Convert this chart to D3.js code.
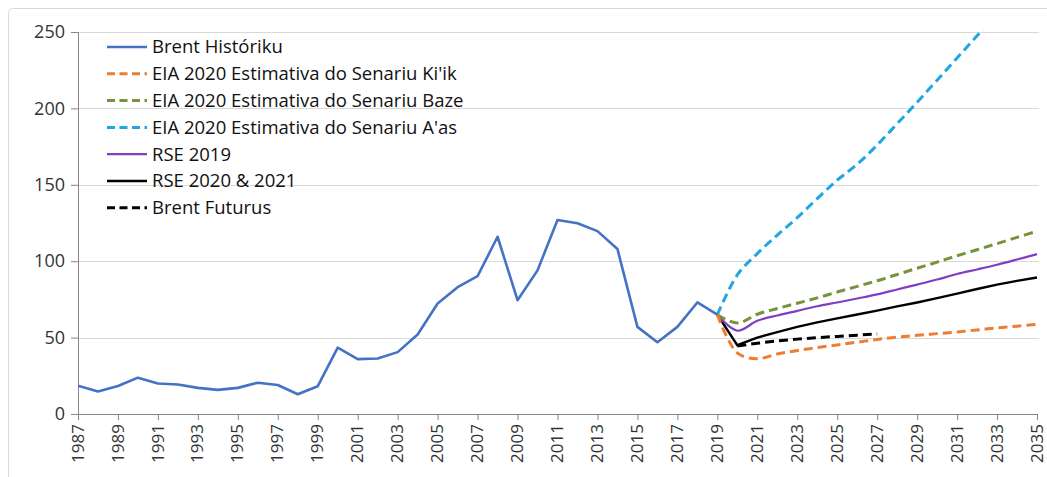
<!DOCTYPE html>
<html>
<head>
<meta charset="utf-8">
<script src="https://cdn.jsdelivr.net/npm/d3@7"></script>
<style>
  body { margin: 0; background: #fff; }
  text { font-family: "Open Sans", sans-serif; }
</style>
</head>
<body>
<div id="chart-container"></div>
<script>
// Data
const histYears = d3.range(1987, 2020);
const brentHist = [18.5, 14.8, 18.3, 23.8, 20.0, 19.3, 17.1, 15.8, 17.1, 20.5, 19.0, 12.9, 18.2,
    43.4, 35.9, 36.3, 40.5, 52.0, 72.3, 83.0, 90.2, 116.0, 74.5, 94.0, 127.0, 124.8, 119.7,
    108.0, 57.0, 47.0, 57.0, 73.0, 65.0];

const fcYears = d3.range(2019, 2036);
const eiaLow = [65.0, 40.0, 36.2, 39.3, 41.5, 43.5, 45.2, 47.0, 48.8, 50.3, 51.5, 52.6, 53.7, 55.0, 56.4, 57.5, 58.6];
const eiaBase = [65.0, 59.5, 65.3, 69.0, 72.5, 76.0, 79.8, 83.5, 87.2, 91.3, 95.4, 99.4, 103.6, 107.5, 111.5, 115.6, 119.6];
const eiaHigh = [65.0, 91.0, 105.0, 117.0, 128.5, 141.0, 153.0, 163.5, 176.0, 190.0, 204.0, 218.5, 233.0, 247.5, 262.0, 277.0, 292.0];
const rse2019 = [65.0, 54.5, 61.0, 64.5, 67.5, 70.5, 73.0, 75.6, 78.3, 81.5, 84.7, 88.0, 91.6, 94.6, 97.7, 101.1, 104.6];
const rse2020 = [65.0, 45.0, 50.0, 53.6, 57.0, 60.0, 62.6, 65.1, 67.7, 70.4, 73.0, 75.8, 78.8, 81.8, 84.7, 87.1, 89.3];

const futYears = d3.range(2020, 2028);
const brentFut = [44.5, 46.3, 47.8, 49.0, 50.0, 50.8, 51.6, 52.4];

const yTicks = [0, 50, 100, 150, 200, 250];
const xTicks = d3.range(1987, 2036, 2);

const series = [
    { name: "Brent Históriku", years: histYears, values: brentHist, color: "#4472c4", width: 2.6, dash: null, curve: d3.curveLinear },
    { name: "EIA 2020 Estimativa do Senariu Ki'ik", years: fcYears, values: eiaLow, color: "#ed7d31", width: 3, dash: "9,5", curve: d3.curveCatmullRom },
    { name: "EIA 2020 Estimativa do Senariu Baze", years: fcYears, values: eiaBase, color: "#77933c", width: 3, dash: "9,5", curve: d3.curveCatmullRom },
    { name: "EIA 2020 Estimativa do Senariu A'as", years: fcYears, values: eiaHigh, color: "#1ea7e1", width: 3, dash: "9,5", curve: d3.curveCatmullRom },
    { name: "RSE 2019", years: fcYears, values: rse2019, color: "#7f3fc2", width: 2.2, dash: null, curve: d3.curveCatmullRom },
    { name: "RSE 2020 & 2021", years: fcYears, values: rse2020, color: "#000000", width: 2.4, dash: null, curve: d3.curveLinear },
    { name: "Brent Futurus", years: futYears, values: brentFut, color: "#000000", width: 3, dash: "9,5", curve: d3.curveLinear }
];

const W = 1047, H = 477;
const plotLeft = 78, plotRight = 1037, plotTop = 32, plotBottom = 414;

const svg = d3.select('#chart-container')
    .append('svg')
    .attr('width', W)
    .attr('height', H);

// Outer chart frame
svg.append('rect')
    .attr('x', 8.5)
    .attr('y', 8.5)
    .attr('width', 1100)
    .attr('height', 520)
    .attr('rx', 4)
    .attr('fill', 'none')
    .attr('stroke', '#d9d9d9');

const x = d3.scaleLinear().domain([1987, 2035]).range([plotLeft, plotRight]);
const y = d3.scaleLinear().domain([0, 250]).range([plotBottom, plotTop]);

// Gridlines
svg.append('g')
    .selectAll('line')
    .data(yTicks.filter(d => d > 0))
    .enter()
    .append('line')
    .attr('x1', plotLeft)
    .attr('x2', plotRight + 2)
    .attr('y1', d => Math.round(y(d)) + 0.5)
    .attr('y2', d => Math.round(y(d)) + 0.5)
    .attr('stroke', '#d9d9d9')
    .attr('stroke-width', 1);

// Y axis
const yAxis = svg.append('g')
    .attr('transform', `translate(${plotLeft},0)`)
    .call(d3.axisLeft(y).tickValues(yTicks).tickSize(7).tickPadding(6));
yAxis.select('.domain').attr('stroke', '#868686');
yAxis.selectAll('.tick line').attr('stroke', '#868686');
yAxis.selectAll('.tick text')
    .attr('font-size', 18)
    .attr('fill', '#333')
    .style('font-family', '"Open Sans", sans-serif');

// X axis
const xAxis = svg.append('g')
    .attr('transform', `translate(0,${plotBottom})`)
    .call(d3.axisBottom(x).tickValues(xTicks).tickFormat(d3.format('d')).tickSize(6).tickSizeOuter(0));
xAxis.select('.domain').attr('stroke', '#868686');
xAxis.selectAll('.tick line').attr('stroke', '#868686');
xAxis.selectAll('.tick text')
    .attr('font-size', 17)
    .attr('fill', '#333')
    .style('font-family', '"Open Sans", sans-serif')
    .attr('text-anchor', 'end')
    .attr('transform', 'rotate(-90)')
    .attr('x', -10)
    .attr('y', 0)
    .attr('dy', '0.3em');

// Clip to plot area
svg.append('clipPath')
    .attr('id', 'plot-clip')
    .append('rect')
    .attr('x', plotLeft)
    .attr('y', plotTop - 2)
    .attr('width', plotRight - plotLeft + 4)
    .attr('height', plotBottom - plotTop + 2);

// Lines
const plot = svg.append('g').attr('clip-path', 'url(#plot-clip)');
series.slice().reverse().forEach(s => {
    const line = d3.line()
        .x((d, i) => x(s.years[i]))
        .y(d => y(d))
        .curve(s.curve);
    plot.append('path')
        .datum(s.values)
        .attr('d', line)
        .attr('fill', 'none')
        .attr('stroke', s.color)
        .attr('stroke-width', s.width)
        .attr('stroke-dasharray', s.dash)
        .attr('stroke-linejoin', 'round');
});

// Legend
const legend = svg.append('g').attr('transform', 'translate(107,47)');
series.forEach((s, i) => {
    const row = legend.append('g').attr('transform', `translate(0,${i * 26.8})`);
    row.append('line')
        .attr('x1', 0)
        .attr('x2', 40)
        .attr('stroke', s.color)
        .attr('stroke-width', s.width)
        .attr('stroke-dasharray', s.dash ? '8,4.5' : null);
    row.append('text')
        .attr('x', 45)
        .attr('dy', '0.35em')
        .attr('font-size', 18.5)
        .attr('fill', '#111')
        .text(s.name);
});
</script>
</body>
</html>
